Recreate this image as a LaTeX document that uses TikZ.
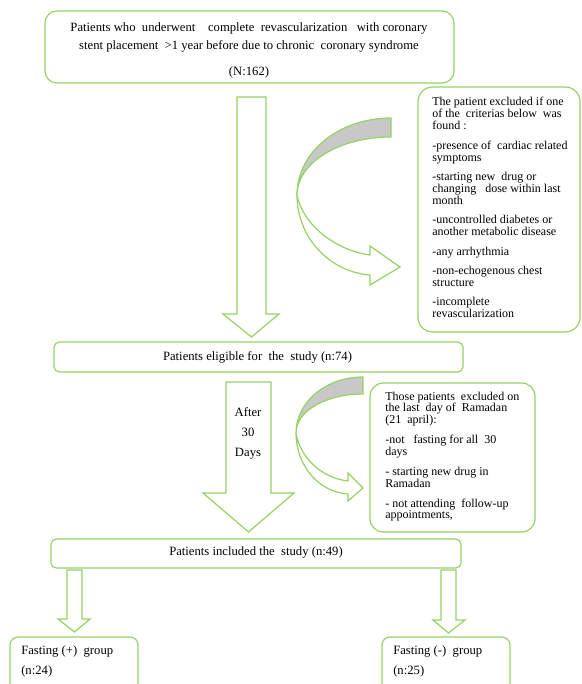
\documentclass[tikz,border=0pt]{standalone}
\usepackage{fontspec}
\setmainfont{Liberation Serif}
\definecolor{flowgreen}{RGB}{150,210,100}
\definecolor{bandgray}{RGB}{200,200,200}

\begin{document}
\begin{tikzpicture}[x=0.75pt,y=0.75pt,yscale=-1,xscale=1,
    panel/.style={draw=flowgreen, line width=0.9pt, rounded corners=#1},
    panel/.default=4pt,
    hollowarrow/.style={draw=flowgreen, line width=0.9pt, fill=white},
    shadedband/.style={draw=flowgreen, line width=0.9pt, fill=bandgray},
    boxtext/.style={inner sep=0.75pt, font=\fontsize{9.5}{13.5}\selectfont},
    listtext/.style={inner sep=0.75pt, align=left, font=\fontsize{9}{9}\selectfont}]
    \useasboundingbox (0,0) rectangle (581,684);
    \clip (0,0) rectangle (581,684);

    %Rounded Rect: cohort
    \draw [panel=9pt] (45,11) rectangle (454,83);
    %Rounded Rect: first exclusion
    \draw [panel=11pt] (418,87) rectangle (580,332);
    %Rounded Rect: eligible
    \draw [panel] (54,342) rectangle (463,372);
    %Rounded Rect: second exclusion
    \draw [panel=10pt] (370,383) rectangle (535,532);
    %Rounded Rect: included
    \draw [panel] (51,539) rectangle (461,568);
    %Rounded Rect: fasting groups
    \draw [panel=6pt] (10,637) rectangle (138,700);
    \draw [panel=6pt] (382,637) rectangle (510,700);

    %Shape: Down Arrow
    \draw [hollowarrow] (237,97) -- (266,97) -- (266,314) -- (279,314) -- (251.5,337) -- (223,314) -- (237,314) -- cycle;
    %Shape: Down Arrow
    \draw [hollowarrow] (226,382) -- (271,382) -- (271,493) -- (294,493) -- (248.5,532) -- (203,493) -- (226,493) -- cycle;
    %Shape: Down Arrow
    \draw [hollowarrow] (67,570) -- (82,570) -- (82,619) -- (90,619) -- (74.5,632) -- (58,619) -- (67,619) -- cycle;
    %Shape: Down Arrow
    \draw [hollowarrow] (441,570) -- (456,570) -- (456,620) -- (465,620) -- (448.5,633) -- (433,620) -- (441,620) -- cycle;

    %Shape: Curved Right Arrow (first exclusion)
    \draw [shadedband] (391,118) -- (391,137) .. controls (339,137) and (297,163) .. (297,195) .. controls (297,152) and (339,118) .. (391,118) -- cycle;
    \draw [hollowarrow] (297,195) .. controls (303,225) and (335,250) .. (370,255) -- (370,246) -- (400,267) -- (370,285) -- (370,275) .. controls (330,272) and (297,238) .. (297,195) -- cycle;
    %Shape: Curved Right Arrow (second exclusion)
    \draw [shadedband] (363,377) -- (363,394) .. controls (326,394) and (296,411) .. (296,433) .. controls (296,402) and (326,377) .. (363,377) -- cycle;
    \draw [hollowarrow] (296,433) .. controls (300,458) and (322,478) .. (348,481) -- (348,473) -- (363,488) -- (348,501) -- (348,494) .. controls (318,492) and (296,465) .. (296,433) -- cycle;

    % Text Node
    \node (cohort) [boxtext, anchor=north, align=center] at (249,21) {Patients who~ underwent~~~ complete~ revascularization~~ with coronary\\ stent placement~ >1 year before due to chronic~ coronary syndrome\\[6pt] (N:162)};
    % Text Node
    \node (criteria) [listtext, anchor=north west] at (431,96) {The patient excluded if one\\ of the~ criterias below~ was\\ found :\\[5.5pt] -presence of~ cardiac related\\ symptoms\\[5.5pt] -starting new~ drug or\\ changing~~ dose within last\\ month\\[5.5pt] -uncontrolled diabetes or\\ another metabolic disease\\[5.5pt] -any arrhythmia\\[5.5pt] -non-echogenous chest\\ structure\\[5.5pt] -incomplete\\ revascularization};
    % Text Node
    \node (eligible) [boxtext] at (257.5,357) {Patients eligible for~ the~ study (n:74)};
    % Text Node
    \node (delay) [boxtext, align=center, font=\fontsize{9.5}{15}\selectfont] at (248,433) {After\\ 30\\ Days};
    % Text Node
    \node (ramadan) [listtext, anchor=north west, font=\fontsize{9}{8.7}\selectfont] at (384,390.5) {Those patients~ excluded on\\ the last~ day of~ Ramadan\\ (21~ april):\\[6.5pt] -not~~ fasting for all~ 30\\ days\\[6.5pt] - starting new drug in\\ Ramadan\\[6.5pt] - not attending~ follow-up\\ appointments,};
    % Text Node
    \node (included) [boxtext] at (256,552) {Patients included the~ study (n:49)};
    % Text Node
    \node (fastpos) [boxtext, anchor=north west, align=left, font=\fontsize{9.5}{15}\selectfont] at (20,644) {Fasting (+)~ group\\ (n:24)};
    % Text Node
    \node (fastneg) [boxtext, anchor=north west, align=left, font=\fontsize{9.5}{15}\selectfont] at (392,644) {Fasting (-)~ group\\ (n:25)};

\end{tikzpicture}
\end{document}
